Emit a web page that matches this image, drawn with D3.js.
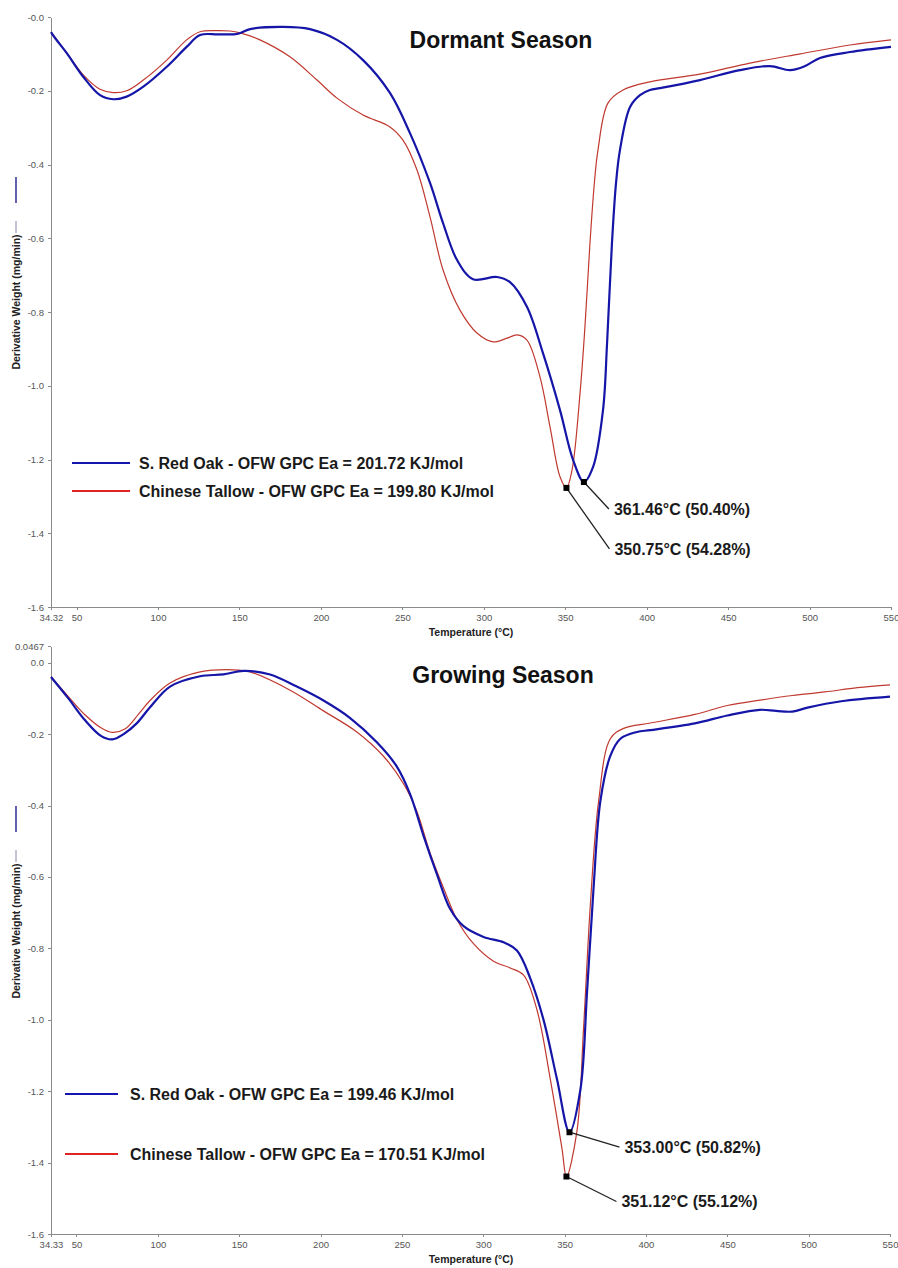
<!DOCTYPE html>
<html>
<head>
<meta charset="utf-8">
<script src="https://cdn.jsdelivr.net/npm/d3@7"></script>
<style>
  body { margin: 0; background: #fff; }
  svg { display: block; font-family: "Liberation Sans", Arial, sans-serif; }
  .axis path, .axis line { stroke: #8a8a8a; shape-rendering: crispEdges; }
  .axis text { fill: #555; font-size: 9.5px; font-family: "Liberation Sans", Arial, sans-serif; }
  .title { font-size: 23px; font-weight: bold; fill: #111; }
  .axlabel { font-size: 10.5px; font-weight: bold; fill: #222; }
  .legend { font-size: 16px; font-weight: bold; fill: #1a1a1a; }
  .peak { font-size: 16px; font-weight: bold; fill: #1a1a1a; }
</style>
</head>
<body>
<svg id="chart" width="898" height="1268"></svg>
<script>
// ---- data: [temperature °C, derivative weight mg/min]
var dormantOak = [[34.32,-0.041],[36.8,-0.057],[44.0,-0.098],[54.1,-0.162],[64.4,-0.212],[72.6,-0.223],[80.8,-0.216],[91.0,-0.189],[105.4,-0.135],[117.6,-0.081],[125.8,-0.049],[137,-0.047],[148.5,-0.046],[156.5,-0.033],[176.7,-0.027],[193.3,-0.033],[209.9,-0.062],[225.9,-0.117],[242.4,-0.206],[254.7,-0.315],[267.0,-0.450],[275.0,-0.559],[283.6,-0.659],[293.4,-0.711],[308.1,-0.705],[316.1,-0.719],[326.5,-0.786],[336.3,-0.911],[346.8,-1.066],[354.8,-1.201],[361.46,-1.261],[367.1,-1.220],[373.2,-1.066],[375.7,-0.884],[378.7,-0.613],[381.2,-0.450],[383.6,-0.361],[389.8,-0.244],[395.9,-0.212],[402.0,-0.198],[408.2,-0.193],[432.7,-0.171],[457.3,-0.144],[475.7,-0.133],[488.0,-0.144],[497.2,-0.133],[506.4,-0.111],[524.8,-0.095],[550,-0.081]];
var dormantTallow = [[34.32,-0.041],[44.0,-0.098],[54.1,-0.157],[64.4,-0.196],[72.6,-0.205],[80.8,-0.200],[91.0,-0.171],[105.4,-0.117],[117.6,-0.062],[125.8,-0.040],[135,-0.037],[144.2,-0.038],[150.4,-0.043],[162.6,-0.062],[181.0,-0.108],[197.6,-0.171],[209.9,-0.220],[225.9,-0.266],[242.4,-0.298],[250.4,-0.334],[259.0,-0.415],[267.0,-0.542],[275.0,-0.686],[285.4,-0.795],[295.8,-0.857],[305.7,-0.881],[314.3,-0.871],[320.4,-0.862],[326.5,-0.876],[334.5,-0.976],[340.7,-1.112],[346.8,-1.247],[350.75,-1.277],[354.2,-1.228],[359.1,-1.020],[362.1,-0.841],[365.2,-0.613],[367.9,-0.450],[370.1,-0.361],[376.3,-0.233],[385.5,-0.198],[402.0,-0.176],[432.7,-0.155],[463.4,-0.125],[494.2,-0.100],[524.8,-0.076],[550,-0.062]];
var growingOak = [[34.33,-0.040],[45,-0.100],[55,-0.160],[65,-0.205],[72,-0.215],[79,-0.200],[87,-0.170],[95.2,-0.125],[107.5,-0.067],[126.0,-0.038],[140.3,-0.033],[152.6,-0.023],[169.0,-0.033],[185.4,-0.067],[201.8,-0.106],[218.2,-0.155],[234.6,-0.223],[246.9,-0.291],[255.1,-0.369],[263.3,-0.485],[271.5,-0.592],[279.7,-0.690],[287.9,-0.738],[300.2,-0.768],[312.5,-0.783],[320.7,-0.806],[328.9,-0.884],[337.1,-1.001],[345.3,-1.166],[353.0,-1.315],[359.7,-1.196],[363.8,-0.922],[367.8,-0.631],[372.0,-0.387],[378.1,-0.261],[384.3,-0.213],[394.5,-0.194],[402.7,-0.189],[430,-0.170],[450,-0.148],[470,-0.132],[480,-0.135],[490,-0.137],[500,-0.125],[520,-0.108],[550,-0.095]];
var growingTallow = [[34.33,-0.040],[45,-0.095],[55,-0.145],[65,-0.182],[72,-0.195],[80,-0.185],[88,-0.145],[95.2,-0.106],[107.5,-0.057],[126.0,-0.026],[146.4,-0.020],[156.7,-0.026],[181.3,-0.077],[201.8,-0.135],[222.3,-0.194],[238.7,-0.262],[251.0,-0.339],[259.2,-0.417],[267.4,-0.534],[275.6,-0.631],[283.8,-0.719],[294.0,-0.787],[306.3,-0.836],[316.6,-0.855],[324.8,-0.875],[333.0,-0.972],[341.2,-1.166],[348.4,-1.361],[351.12,-1.439],[357.6,-1.312],[361.7,-1.020],[365.8,-0.680],[370.9,-0.388],[378.1,-0.213],[386.3,-0.184],[402.7,-0.169],[430,-0.145],[450,-0.120],[470,-0.105],[490,-0.092],[510,-0.082],[530,-0.070],[550,-0.062]];

var seriesNames = ["S. Red Oak", "Chinese Tallow"];
var eaDormant = [201.72, 199.80];
var eaGrowing = [199.46, 170.51];
// peak: [temperature, value, residual %]
var peaksDormant = [[361.46, -1.261, 50.40], [350.75, -1.277, 54.28]];
var peaksGrowing = [[353.00, -1.315, 50.82], [351.12, -1.439, 55.12]];

var xTicksDormant = [34.32, 50, 100, 150, 200, 250, 300, 350, 400, 450, 500, 550];
var xTicksGrowing = [34.33, 50, 100, 150, 200, 250, 300, 350, 400, 450, 500, 550];
var yTicksDormant = [0, -0.2, -0.4, -0.6, -0.8, -1.0, -1.2, -1.4, -1.6];
var yLabelsDormant = ["-0.0", "-0.2", "-0.4", "-0.6", "-0.8", "-1.0", "-1.2", "-1.4", "-1.6"];
var yTicksGrowing = [0.0467, 0, -0.2, -0.4, -0.6, -0.8, -1.0, -1.2, -1.4, -1.6];
var yLabelsGrowing = ["0.0467", "0.0", "-0.2", "-0.4", "-0.6", "-0.8", "-1.0", "-1.2", "-1.4", "-1.6"];

var colors = ["#1515a8", "#c0392f"];
var legendColors = ["#1515b0", "#e02424"];

var svg = d3.select("#chart");

function panel(cfg) {
  var x = d3.scaleLinear().domain([cfg.xTicks[0], 550]).range([51, cfg.right]);
  var y = d3.scaleLinear().domain([-1.6, cfg.yTicks[0]]).range([cfg.bottom, cfg.top]);

  var g = svg.append("g");

  g.append("g")
      .attr("class", "axis")
      .attr("transform", "translate(0," + cfg.bottom + ")")
      .call(d3.axisBottom(x).tickValues(cfg.xTicks)
        .tickFormat(function(d) { return d; })
        .tickSizeInner(3).tickSizeOuter(0).tickPadding(4));

  g.append("g")
      .attr("class", "axis")
      .attr("transform", "translate(51,0)")
      .call(d3.axisLeft(y).tickValues(cfg.yTicks)
        .tickFormat(function(d, i) { return cfg.yLabels[i]; })
        .tickSizeInner(3).tickSizeOuter(0).tickPadding(4));

  var line = d3.line()
      .x(function(d) { return x(d[0]); })
      .y(function(d) { return y(d[1]); })
      .curve(d3.curveCatmullRom.alpha(0.5));

  // red first, blue on top
  g.append("path").datum(cfg.series[1])
      .attr("fill", "none").attr("stroke", colors[1]).attr("stroke-width", 1.2)
      .attr("d", line);
  g.append("path").datum(cfg.series[0])
      .attr("fill", "none").attr("stroke", colors[0]).attr("stroke-width", 2.2)
      .attr("d", line);

  // title
  g.append("text").attr("class", "title")
      .attr("x", cfg.titleX).attr("y", cfg.titleY)
      .attr("text-anchor", "middle").text(cfg.title);

  // axis titles
  g.append("text").attr("class", "axlabel")
      .attr("x", 471).attr("y", cfg.bottom + 29)
      .attr("text-anchor", "middle").text("Temperature (°C)");

  var ylab = cfg.top + 285;
  g.append("text").attr("class", "axlabel")
      .attr("transform", "translate(20," + ylab + ") rotate(-90)")
      .attr("text-anchor", "middle").text("Derivative Weight (mg/min)");
  g.append("line")
      .attr("x1", 16).attr("x2", 16)
      .attr("y1", cfg.top + 160).attr("y2", cfg.top + 186)
      .attr("stroke", "#3a3a9a").attr("stroke-width", 1.6);
  g.append("line")
      .attr("x1", 16).attr("x2", 16)
      .attr("y1", cfg.top + 204).attr("y2", cfg.top + 216)
      .attr("stroke", "#6a6a9a").attr("stroke-width", 0.8);

  // legend
  var leg = g.selectAll(".leg")
      .data(seriesNames)
    .enter().append("g")
      .attr("transform", function(d, i) { return "translate(0," + cfg.legendY[i] + ")"; });
  leg.append("line")
      .attr("x1", cfg.legendX[0]).attr("x2", cfg.legendX[1])
      .attr("stroke", function(d, i) { return legendColors[i]; })
      .attr("stroke-width", 2);
  leg.append("text").attr("class", "legend")
      .attr("x", cfg.legendX[2]).attr("dy", "0.36em")
      .text(function(d, i) { return d + " - OFW GPC Ea = " + cfg.ea[i].toFixed(2) + " KJ/mol"; });

  // peak annotations
  cfg.peaks.forEach(function(p, i) {
    var px = x(p[0]), py = y(p[1]);
    var off = cfg.peakOff[i];
    g.append("line")
        .attr("x1", px).attr("y1", py)
        .attr("x2", px + off[0]).attr("y2", py + off[1])
        .attr("stroke", "#222").attr("stroke-width", 1.3);
    g.append("rect")
        .attr("x", px - 3).attr("y", py - 3)
        .attr("width", 6).attr("height", 6)
        .attr("fill", "#000");
    g.append("text").attr("class", "peak")
        .attr("x", px + off[0] + 5).attr("y", py + off[1])
        .attr("dy", "0.36em")
        .text(p[0].toFixed(2) + "°C (" + p[2].toFixed(2) + "%)");
  });
}

panel({
  title: "Dormant Season", titleX: 501, titleY: 48,
  top: 17, bottom: 607, right: 891,
  xTicks: xTicksDormant, yTicks: yTicksDormant, yLabels: yLabelsDormant,
  series: [dormantOak, dormantTallow], ea: eaDormant, peaks: peaksDormant,
  legendY: [463, 491], legendX: [72, 130, 139],
  peakOff: [[25, 27], [43, 61]]
});

panel({
  title: "Growing Season", titleX: 503, titleY: 683,
  top: 646, bottom: 1234, right: 890,
  xTicks: xTicksGrowing, yTicks: yTicksGrowing, yLabels: yLabelsGrowing,
  series: [growingOak, growingTallow], ea: eaGrowing, peaks: peaksGrowing,
  legendY: [1094, 1154], legendX: [65, 118, 130],
  peakOff: [[50, 15], [50, 25]]
});
</script>
</body>
</html>
